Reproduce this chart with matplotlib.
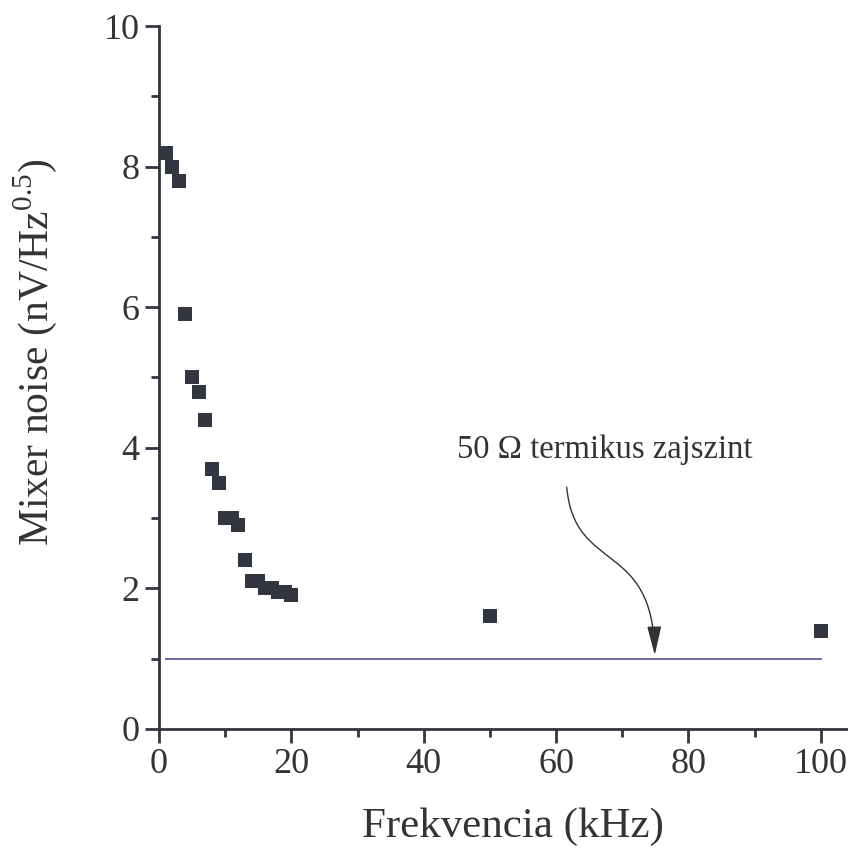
import matplotlib.pyplot as plt
from matplotlib.ticker import MultipleLocator
from matplotlib.patches import FancyArrowPatch
from matplotlib.path import Path

# Mért adatok
frek = [1, 2, 3, 4, 5, 6, 7, 8, 9, 10, 11, 12, 13, 14, 15, 16, 17, 18, 19, 20, 50, 100]
zaj = [8.2, 8.0, 7.8, 5.9, 5.0, 4.8, 4.4, 3.7, 3.5, 3.0, 3.0, 2.9, 2.4, 2.1, 2.1,
       2.0, 2.0, 1.95, 1.95, 1.9, 1.6, 1.4]

# 50 ohm termikus zajszint
termikus_x = [1, 100]
termikus_y = [1.0, 1.0]

plt.rcParams['font.family'] = ['Liberation Serif', 'DejaVu Serif']
plt.rcParams['mathtext.fontset'] = 'custom'
plt.rcParams['mathtext.rm'] = 'Liberation Serif'
szin = '#333640'

fig = plt.figure(figsize=(8.48, 8.5), dpi=100)
ax = fig.add_axes([0.1875, 0.1424, 0.8125, 0.827])

ax.plot(termikus_x, termikus_y, color='#5b5a9c', lw=1.3)
ax.plot(frek, zaj, 's', color=szin, markersize=9.5, markeredgewidth=0)

# felirat és S-alakú nyíl
ax.text(45, 3.97, '50 Ω termikus zajszint', fontsize=23.5, color='#333333', va='center')
ut = Path([(61.6, 3.44), (62.8, 2.2), (74.6, 2.7), (74.9, 1.05)],
          [Path.MOVETO, Path.CURVE4, Path.CURVE4, Path.CURVE4])
nyil = FancyArrowPatch(path=ut, arrowstyle='-|>,head_length=0.9,head_width=0.22',
                       color='#333333', lw=1, mutation_scale=20)
ax.add_patch(nyil)

ax.set_xlim(0, 104.1)
ax.set_ylim(0, 10)
ax.xaxis.set_major_locator(MultipleLocator(20))
ax.xaxis.set_minor_locator(MultipleLocator(10))
ax.yaxis.set_major_locator(MultipleLocator(2))
ax.yaxis.set_minor_locator(MultipleLocator(1))

for s in ['top', 'right']:
    ax.spines[s].set_visible(False)
for s in ['left', 'bottom']:
    ax.spines[s].set_linewidth(2)
    ax.spines[s].set_color(szin)

ax.tick_params(which='major', direction='out', length=10, width=2, color=szin,
               labelsize=26, labelcolor='#333333', pad=4)
ax.tick_params(which='minor', direction='out', length=6, width=2, color=szin)

ax.set_xlabel('Frekvencia (kHz)', fontsize=31, color='#333333')
ax.set_ylabel(r'Mixer noise (nV/Hz$^{\mathrm{0.5}}$)', fontsize=30, color='#333333')
ax.xaxis.set_label_coords(0.513, -0.112)
ax.yaxis.set_label_coords(-0.145, 0.535)

fig.savefig('out.png', dpi=100)
